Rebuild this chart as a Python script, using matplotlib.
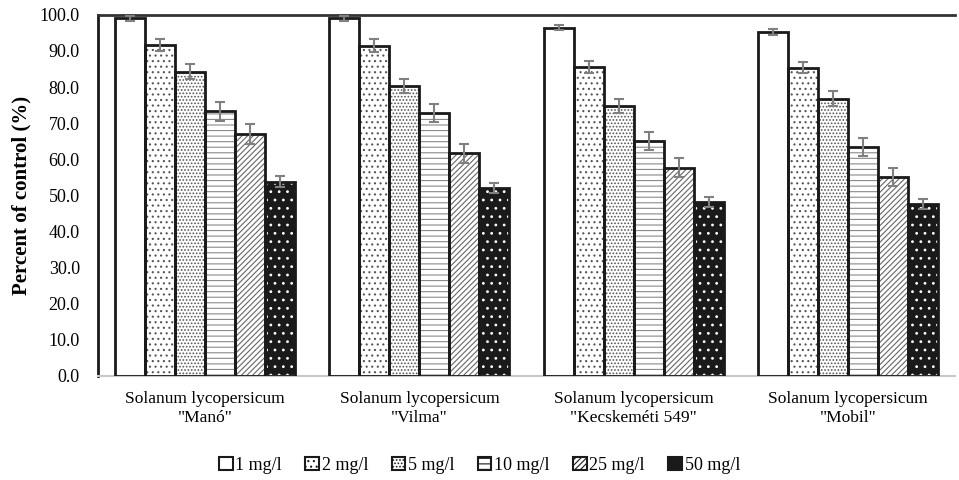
import matplotlib
matplotlib.use("Agg")
import matplotlib.pyplot as plt
import numpy as np
from matplotlib.patches import Patch

plt.rcParams['font.family'] = ['Liberation Serif', 'DejaVu Serif']
plt.rcParams['hatch.linewidth'] = 0.8

categories = ['Solanum lycopersicum\n"Manó"', 'Solanum lycopersicum\n"Vilma"',
              'Solanum lycopersicum\n"Kecskeméti 549"', 'Solanum lycopersicum\n"Mobil"']
series = ['1 mg/l', '2 mg/l', '5 mg/l', '10 mg/l', '25 mg/l', '50 mg/l']
v1 = [99.0, 99.0, 96.5, 95.3]
v2 = [91.7, 91.5, 85.6, 85.4]
v5 = [84.3, 80.3, 74.7, 76.8]
v10 = [73.3, 72.9, 65.0, 63.5]
v25 = [67.1, 61.7, 57.7, 55.0]
v50 = [53.8, 52.0, 48.2, 47.6]
e1 = [0.8, 0.8, 0.8, 0.8]
e2 = [1.6, 1.7, 1.7, 1.6]
e5 = [2.0, 2.0, 2.0, 2.0]
e10 = [2.6, 2.5, 2.5, 2.5]
e25 = [2.8, 2.6, 2.6, 2.5]
e50 = [1.5, 1.3, 1.4, 1.4]
values = [v1, v2, v5, v10, v25, v50]
errors = [e1, e2, e5, e10, e25, e50]
yticks = [0, 10, 20, 30, 40, 50, 60, 70, 80, 90, 100]

faces = ['white', 'white', 'white', 'white', 'white', '#1a1a1a']
hatches = [None, '...', '.....', '---', '//////', '..']
hatchcols = ['white', '#555555', '#555555', '#8a8a8a', '#666666', 'white']

fig = plt.figure(figsize=(9.59, 4.8), dpi=100)
ax = fig.add_axes([0.102, 0.217, 0.894, 0.752])

x = np.arange(len(categories))
n = len(series)
bw = 0.14
for i in range(n):
    pos = x + (i - (n - 1) / 2) * bw
    ax.bar(pos, values[i], bw, color=faces[i], edgecolor=hatchcols[i],
           hatch=hatches[i], linewidth=0, zorder=2)
    ax.bar(pos, values[i], bw, fill=False, edgecolor='#1a1a1a', linewidth=2.0, zorder=3)
    ax.errorbar(pos, values[i], yerr=errors[i], fmt='none', ecolor='#808080',
                elinewidth=1.5, capsize=3.5, capthick=1.5, zorder=4)

ax.set_xlim(-0.5, len(categories) - 0.5)
ax.set_ylim(0, 100)
ax.set_yticks(yticks)
ax.set_yticklabels([f'{t:.1f}' for t in yticks], fontsize=13)
ax.set_xticks(x)
ax.set_xticklabels(categories, fontsize=12.5)
ax.tick_params(axis='y', length=0, pad=13)
ax.tick_params(axis='x', length=0, pad=11)
ax.set_ylabel('Percent of control (%)', fontsize=15, fontweight='bold', labelpad=6)

ax.spines['right'].set_visible(False)
ax.spines['top'].set_color('#333333')
ax.spines['top'].set_linewidth(2)
ax.spines['left'].set_color('#1a1a1a')
ax.spines['left'].set_linewidth(2)
ax.spines['bottom'].set_color('#c8c8c8')
ax.spines['bottom'].set_linewidth(1.5)

handles = [Patch(facecolor=faces[i], edgecolor='#1a1a1a', hatch=hatches[i], linewidth=1.5)
           for i in range(n)]
fig.legend(handles, series, loc='center', bbox_to_anchor=(0.5, 0.03), ncol=6,
           frameon=False, fontsize=13, handlelength=0.75, handleheight=0.75,
           handletextpad=0.15, columnspacing=1.3)

fig.savefig('out.png', dpi=100)
